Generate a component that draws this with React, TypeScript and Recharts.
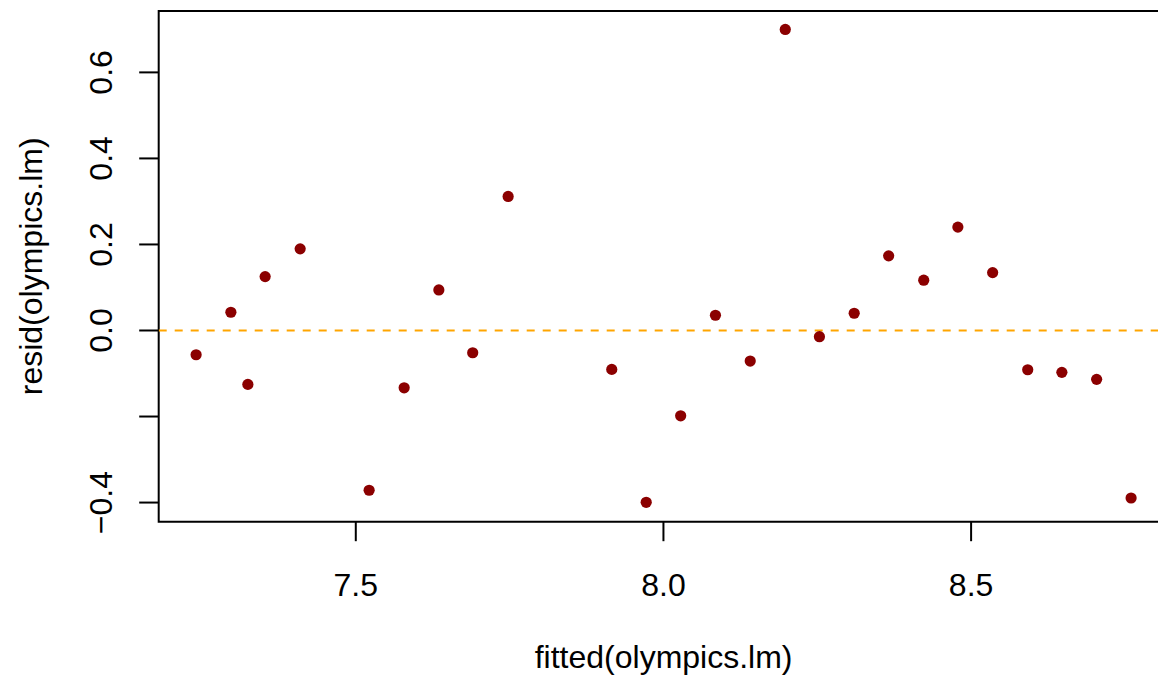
import { ScatterChart, Scatter, XAxis, YAxis, ReferenceLine, ReferenceArea, Label } from "recharts"

const fittedValues = [
  7.2405, 7.297, 7.3246, 7.3527, 7.4096, 7.5217, 7.5786, 7.635, 7.69, 7.7476, 7.916, 7.972, 8.028,
  8.0845, 8.141, 8.198, 8.2535, 8.31, 8.366, 8.423, 8.4785, 8.535, 8.592, 8.6475, 8.704, 8.76,
]
const residValues = [
  -0.0564, 0.0424, -0.1253, 0.1253, 0.1898, -0.3714, -0.1332, 0.0943, -0.0517, 0.3116, -0.0904, -0.3994, -0.1984,
  0.0354, -0.071, 0.6998, -0.0144, 0.0401, 0.1735, 0.1169, 0.2403, 0.1346, -0.0913, -0.0973, -0.1136, -0.3894,
]
const xTicks = [7.5, 8.0, 8.5]
const xTickLabels = ["7.5", "8.0", "8.5"]
const yTicks = [-0.4, -0.2, 0, 0.2, 0.4, 0.6]
const yTickLabels = ["\u22120.4", "", "0.0", "0.2", "0.4", "0.6"]
const xDomain: [number, number] = [7.1797, 8.8208]
const yDomain: [number, number] = [-0.4445, 0.7427]

const data = fittedValues.map((x, i) => ({ x, y: residValues[i] }))

const FONT = "'Liberation Sans', Arial, Helvetica, sans-serif"
const FS = 32

function XTick(props: any) {
  const { x, y, payload } = props
  const label = xTickLabels[xTicks.indexOf(payload.value)] ?? ""
  return (
    <text x={x} y={y + 55} textAnchor="middle" fontFamily={FONT} fontSize={FS} fill="#000">
      {label}
    </text>
  )
}

function YTick(props: any) {
  const { x, y, payload } = props
  const idx = yTicks.findIndex((t) => Math.abs(t - payload.value) < 1e-9)
  const label = yTickLabels[idx] ?? ""
  const bx = x - 26.7
  return (
    <text x={bx} y={y} transform={`rotate(-90, ${bx}, ${y})`} textAnchor="middle" fontFamily={FONT} fontSize={FS} fill="#000">
      {label}
    </text>
  )
}

function Dot(props: any) {
  return <circle cx={props.cx} cy={props.cy} r={5.6} fill="#8B0000" />
}

export default function App() {
  return (
    <div style={{ position: "absolute", left: 0, top: 0, width: 1158, height: 675, overflow: "hidden", background: "#fff" }}>
      <ScatterChart width={1170} height={675} margin={{ top: 11, right: 1.5, bottom: 0, left: 0 }}>
        <XAxis
          type="number"
          dataKey="x"
          domain={xDomain}
          ticks={xTicks}
          allowDataOverflow
          axisLine={false}
          tickSize={19.5}
          tickMargin={0}
          tickLine={{ stroke: "#000", strokeWidth: 2 }}
          tick={<XTick />}
          height={153.3}
        >
          <Label
            content={(p: any) => {
              const vb = p.viewBox
              return (
                <text x={vb.x + vb.width / 2} y={vb.y + 146} textAnchor="middle" fontFamily={FONT} fontSize={FS} fill="#000">
                  fitted(olympics.lm)
                </text>
              )
            }}
          />
        </XAxis>
        <YAxis
          type="number"
          dataKey="y"
          domain={yDomain}
          ticks={yTicks}
          allowDataOverflow
          axisLine={false}
          tickSize={19.5}
          tickMargin={0}
          tickLine={{ stroke: "#000", strokeWidth: 2 }}
          tick={<YTick />}
          width={158.7}
        >
          <Label
            content={(p: any) => {
              const vb = p.viewBox
              const cx = 41.7
              const cy = vb.y + vb.height / 2
              return (
                <text x={cx} y={cy} transform={`rotate(-90, ${cx}, ${cy})`} textAnchor="middle" fontFamily={FONT} fontSize={FS} fill="#000">
                  resid(olympics.lm)
                </text>
              )
            }}
          />
        </YAxis>
        <ReferenceArea x1={xDomain[0]} x2={xDomain[1]} y1={yDomain[0]} y2={yDomain[1]} fill="none" fillOpacity={0} stroke="#000" strokeWidth={2} />
        <ReferenceLine y={0} stroke="#FFA500" strokeWidth={2} strokeDasharray="8 8" />
        <Scatter data={data} shape={<Dot />} isAnimationActive={false} />
      </ScatterChart>
    </div>
  )
}
